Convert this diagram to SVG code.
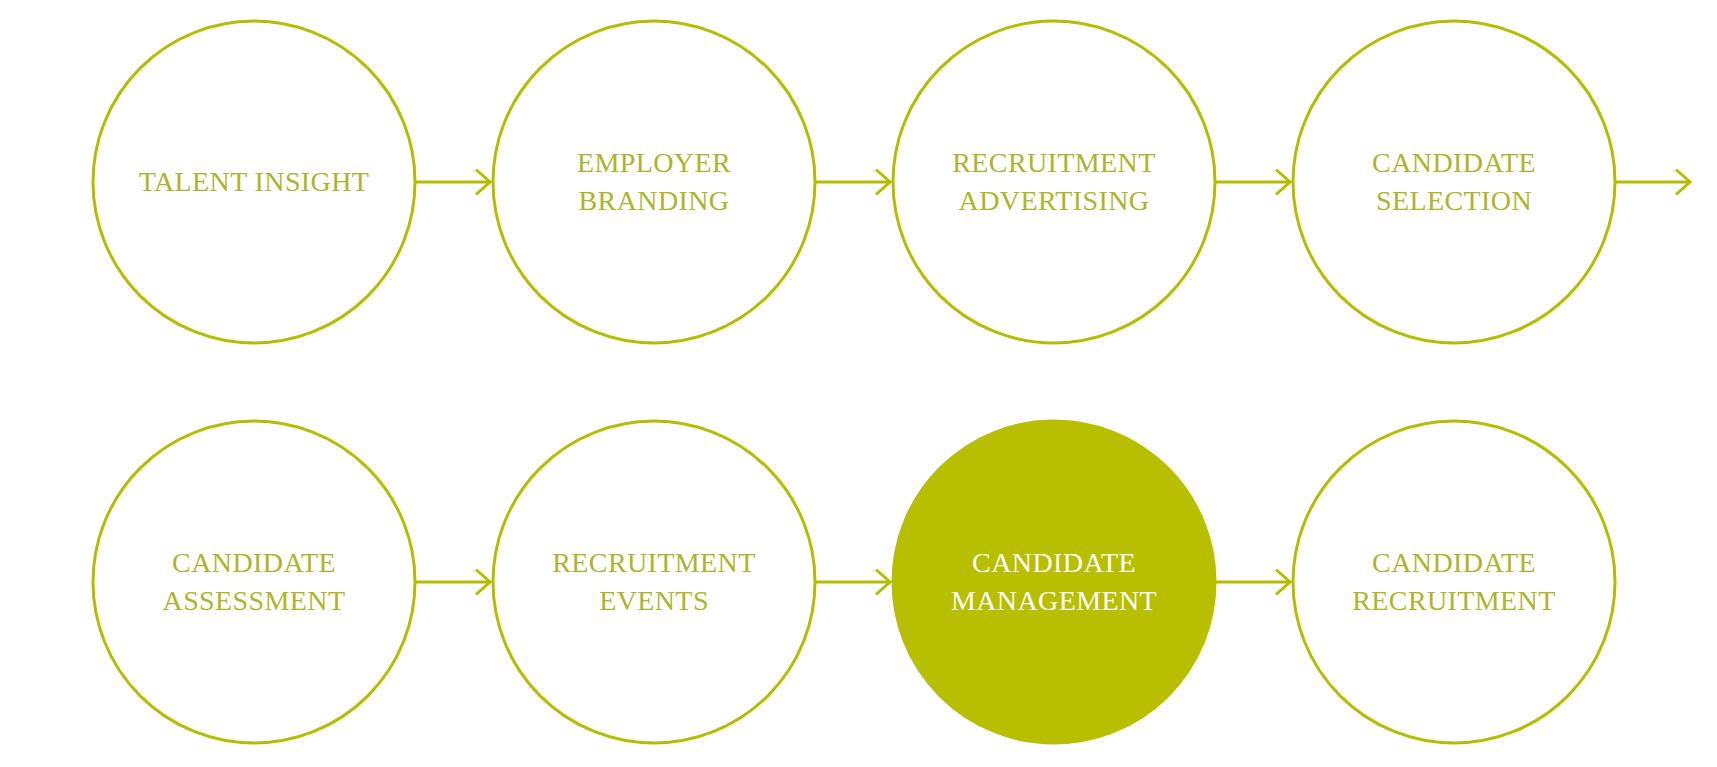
<svg xmlns="http://www.w3.org/2000/svg" width="1717" height="767" viewBox="0 0 1717 767">
<style>
.node circle{fill:#ffffff;stroke:#b5bd00;stroke-width:3}
.node.active circle{fill:#b7bf00;stroke:#b7bf00}
.node text{font-family:"Liberation Serif","Times New Roman",serif;font-size:28px;letter-spacing:0.4px;fill:#adb52c;text-anchor:middle}
.node.active text{fill:#ffffff}
.conn{fill:none;stroke:#b5bd00;stroke-width:3}
</style>
<rect width="1717" height="767" fill="#ffffff"/>
<g id="connectors">
<path class="conn" d="M415 182H490M476 169.5L490 182L476 194.5"/>
<path class="conn" d="M815 182H890M876 169.5L890 182L876 194.5"/>
<path class="conn" d="M1215 182H1290M1276 169.5L1290 182L1276 194.5"/>
<path class="conn" d="M1615 182H1690M1676 169.5L1690 182L1676 194.5"/>
<path class="conn" d="M415 582H490M476 569.5L490 582L476 594.5"/>
<path class="conn" d="M815 582H890M876 569.5L890 582L876 594.5"/>
<path class="conn" d="M1215 582H1290M1276 569.5L1290 582L1276 594.5"/>
</g>
<g id="talent-insight" class="node">
<circle cx="254" cy="182" r="161"/>
<text x="254" y="191">TALENT INSIGHT</text>
</g>
<g id="employer-branding" class="node">
<circle cx="654" cy="182" r="161"/>
<text x="654" y="172">EMPLOYER</text>
<text x="654" y="210">BRANDING</text>
</g>
<g id="recruitment-advertising" class="node">
<circle cx="1054" cy="182" r="161"/>
<text x="1054" y="172">RECRUITMENT</text>
<text x="1054" y="210">ADVERTISING</text>
</g>
<g id="candidate-selection" class="node">
<circle cx="1454" cy="182" r="161"/>
<text x="1454" y="172">CANDIDATE</text>
<text x="1454" y="210">SELECTION</text>
</g>
<g id="candidate-assessment" class="node">
<circle cx="254" cy="582" r="161"/>
<text x="254" y="572">CANDIDATE</text>
<text x="254" y="610">ASSESSMENT</text>
</g>
<g id="recruitment-events" class="node">
<circle cx="654" cy="582" r="161"/>
<text x="654" y="572">RECRUITMENT</text>
<text x="654" y="610">EVENTS</text>
</g>
<g id="candidate-management" class="node active">
<circle cx="1054" cy="582" r="161"/>
<text x="1054" y="572">CANDIDATE</text>
<text x="1054" y="610">MANAGEMENT</text>
</g>
<g id="candidate-recruitment" class="node">
<circle cx="1454" cy="582" r="161"/>
<text x="1454" y="572">CANDIDATE</text>
<text x="1454" y="610">RECRUITMENT</text>
</g>
</svg>
